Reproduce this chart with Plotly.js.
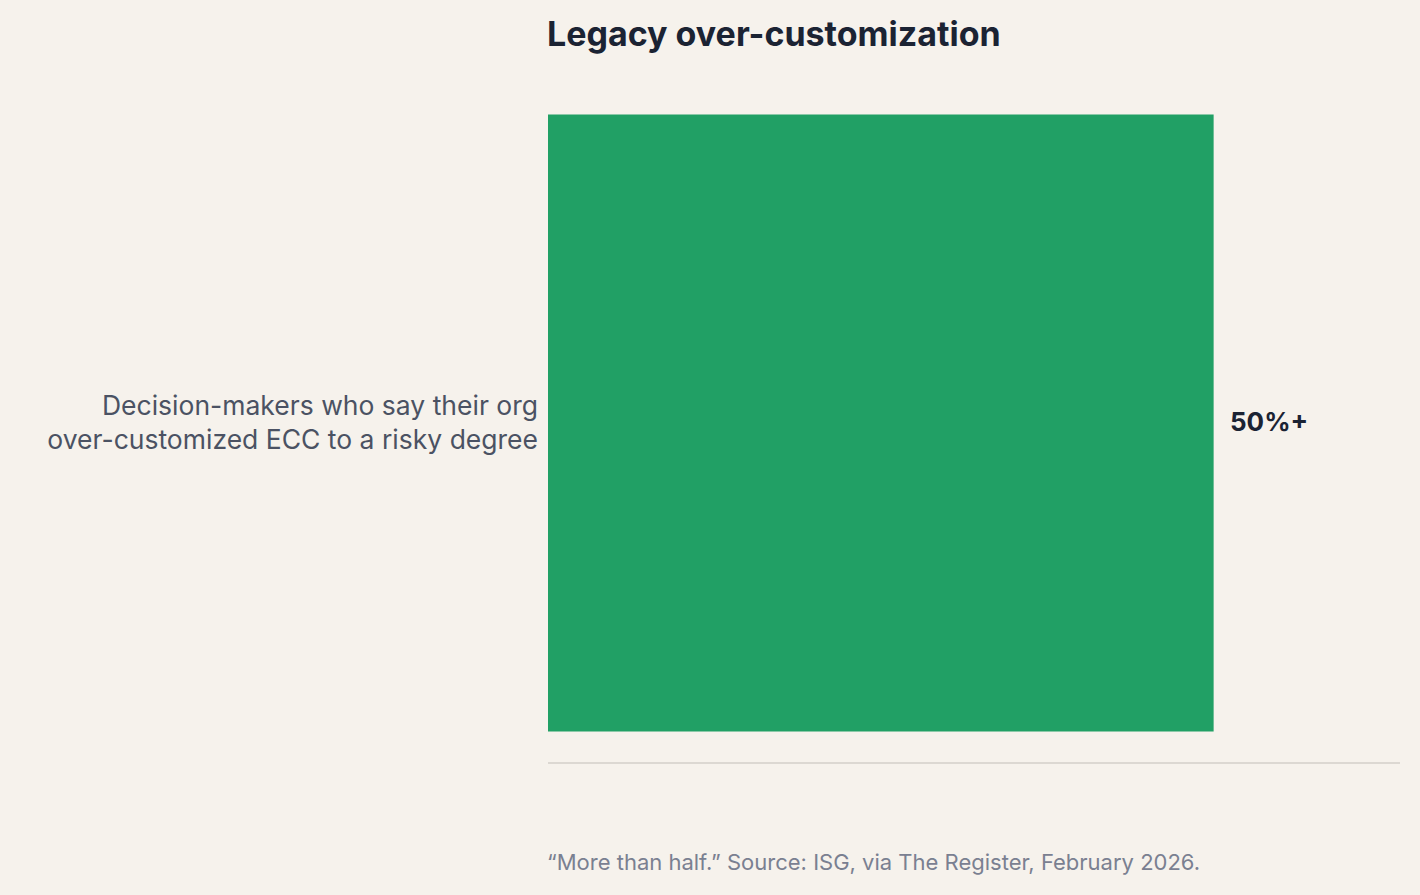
<!DOCTYPE html>
<html>
<head>
<meta charset="utf-8">
<script src="https://cdn.plot.ly/plotly-3.0.1.min.js"></script>
<style>
  html, body { margin: 0; padding: 0; background: #f6f2ec; }
  #chart { width: 1420px; height: 895px; }
</style>
</head>
<body>
<div id="chart"></div>
<script>
// data
var categories = ['Decision-makers who say their org<br>over-customized ECC to a risky degree'];
var values = [50];
var valueLabels = ['50%+'];

var bar = {
  type: 'bar',
  orientation: 'h',
  x: values,
  y: categories,
  marker: { color: '#21a065' },
  hoverinfo: 'skip'
};

var layout = {
  width: 1420,
  height: 895,
  paper_bgcolor: '#f6f2ec',
  plot_bgcolor: '#f6f2ec',
  font: { family: 'Inter, "DejaVu Sans", sans-serif', color: '#4b5263' },
  margin: { l: 548, r: 20, t: 84, b: 133 },
  bargap: 0.09,
  showlegend: false,
  title: {
    text: '<b>Legacy over-customization</b>',
    x: 547 / 1420,
    xanchor: 'left',
    y: 1 - 34 / 895,
    yanchor: 'middle',
    font: { size: 34, color: '#1b2333' }
  },
  xaxis: {
    range: [0, 64],
    showgrid: false,
    zeroline: false,
    showticklabels: false,
    showline: true,
    linecolor: '#dcd8d2',
    linewidth: 2,
    fixedrange: true
  },
  yaxis: {
    showgrid: false,
    zeroline: false,
    showline: false,
    ticklabelstandoff: 9,
    tickfont: { size: 26.5, color: '#4b5263' },
    fixedrange: true
  },
  annotations: [
    {
      x: values[0],
      y: categories[0],
      xref: 'x',
      yref: 'y',
      yshift: 2,
      text: '<b>' + valueLabels[0] + '</b>',
      showarrow: false,
      xanchor: 'left',
      xshift: 14,
      font: { size: 26, color: '#1b2333' }
    },
    {
      x: -3 / 852,
      y: -100 / 678,
      xref: 'paper',
      yref: 'paper',
      xanchor: 'left',
      yanchor: 'middle',
      showarrow: false,
      text: '“More than half.” Source: ISG, via The Register, February 2026.',
      font: { size: 22, color: '#7a8091' }
    }
  ]
};

Plotly.newPlot('chart', [bar], layout, { displayModeBar: false, staticPlot: true });
</script>
</body>
</html>
